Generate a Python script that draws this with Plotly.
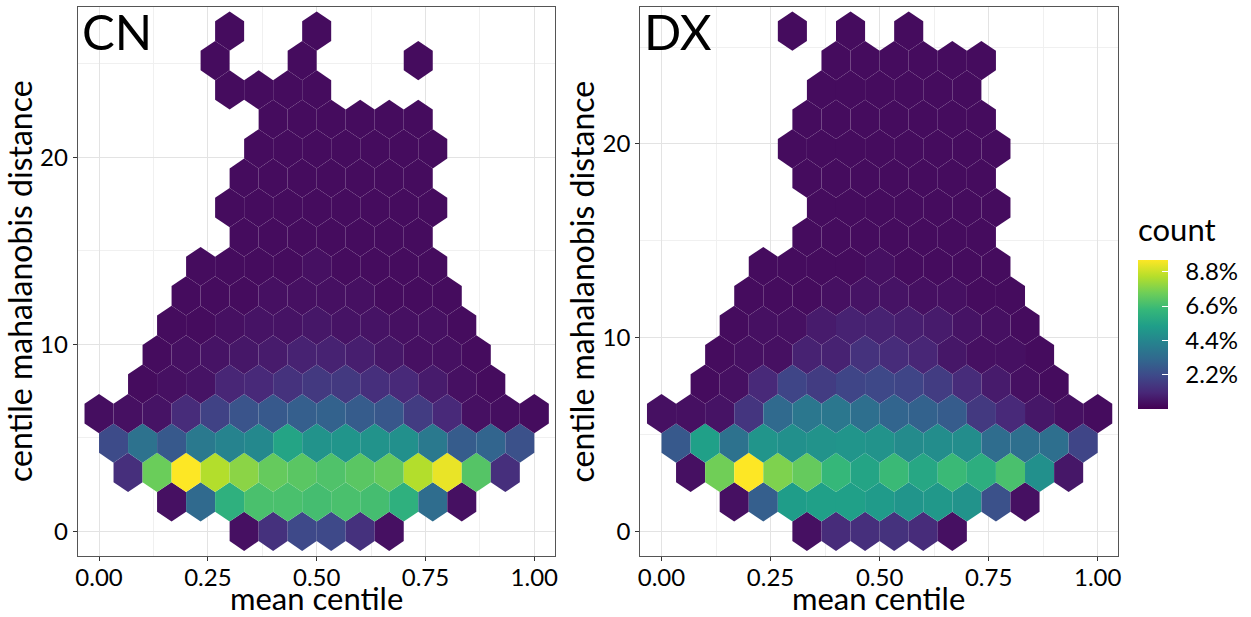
import plotly.graph_objects as go
from plotly.colors import sequential, hex_to_rgb

W, H = 1251, 617
FONT = "Lato"

# Hexagonal bins: 15 bins across mean centile, odd rows shifted by half a bin
BIN_W = 1 / 15
CN_BIN_H = 1.573
DX_BIN_H = 1.519
COUNT_MAX = 9.6  # top of the colour scale (%)

# Percentage per hex bin, one entry per row: (row, first column, values); None = empty bin
CN_ROWS = [
    (0, 5, [0.4, 1.35, 2.15, 2.15, 1.35, 0.4]),
    (1, 2, [0.4, 3.3, 6.1, 6.8, 6.8, 6.7, 6.8, 6.7, 6.1, 3.4, 0.4]),
    (2, 1, [1.3, 7.4, 9.6, 8.5, 7.9, 7.3, 7.1, 6.9, 7.1, 7.3, 8.5, 9.3, 7.0, 1.3]),
    (3, 0, [2.2, 3.6, 2.7, 3.9, 4.3, 4.5, 5.6, 4.9, 5.0, 4.9, 4.8, 3.9, 2.8, 3.1, 2.4]),
    (4, 0, [0.35, 0.4, 0.5, 1.2, 1.9, 2.5, 2.7, 2.9, 3.0, 2.8, 2.6, 1.7, 1.1, 0.4, 0.35, 0.3]),
    (5, 1, [0.3, 0.4, 0.5, 1.0, 1.1, 1.4, 1.6, 1.6, 1.3, 1.1, 0.7, 0.4, 0.3]),
    (6, 2, [0.3, 0.4, 0.5, 0.6, 0.7, 0.9, 0.9, 0.8, 0.6, 0.4, 0.4, 0.3]),
    (7, 2, [0.3, 0.3, 0.4, 0.5, 0.5, 0.6, 0.5, 0.5, 0.4, 0.4, 0.3]),
    (8, 3, [0.3, 0.3, 0.3, 0.4, 0.4, 0.4, 0.4, 0.3, 0.3, 0.3]),
    (9, 3, [0.3, 0.3, 0.3, 0.3, 0.4, 0.3, 0.3, 0.3, 0.3]),
    (10, 5, [0.3, 0.3, 0.3, 0.3, 0.3, 0.3, 0.3]),
    (11, 4, [0.3, 0.3, 0.3, 0.3, 0.3, 0.3, 0.3, 0.3]),
    (12, 5, [0.3, 0.3, 0.3, 0.3, 0.3, 0.3, 0.3]),
    (13, 5, [0.3, 0.3, 0.3, 0.3, 0.3, 0.3, 0.3]),
    (14, 6, [0.3, 0.3, 0.3, 0.3, 0.3, 0.3]),
    (15, 4, [0.3, 0.3, 0.3, 0.3]),
    (16, 4, [0.3, None, None, 0.3, None, None, None, 0.3]),
    (17, 4, [0.3, None, None, 0.3]),
]

DX_ROWS = [
    (0, 5, [0.4, 1.2, 1.3, 1.4, 1.2, 0.4]),
    (1, 2, [0.4, 2.9, 5.3, 5.4, 5.4, 5.2, 5.0, 5.1, 4.9, 2.4, 0.4]),
    (2, 1, [0.4, 7.5, 9.6, 7.7, 7.3, 6.4, 5.6, 6.5, 5.7, 6.5, 6.0, 6.8, 4.8, 0.6]),
    (3, 0, [2.7, 5.4, 3.6, 5.0, 4.8, 4.9, 5.0, 4.9, 4.6, 4.7, 4.7, 3.4, 3.5, 3.5, 2.0]),
    (4, 0, [0.4, 0.4, 0.5, 1.5, 3.3, 3.8, 3.8, 3.5, 3.1, 3.0, 2.8, 1.6, 1.1, 0.6, 0.4, 0.3]),
    (5, 1, [0.3, 0.4, 1.1, 2.0, 1.7, 2.0, 2.1, 2.0, 1.7, 1.2, 0.7, 0.4, 0.3]),
    (6, 2, [0.3, 0.4, 0.4, 0.9, 0.9, 1.4, 1.2, 1.0, 0.6, 0.4, 0.4, 0.3]),
    (7, 2, [0.3, 0.4, 0.4, 0.7, 0.9, 0.9, 0.8, 0.7, 0.5, 0.4, 0.3]),
    (8, 3, [0.3, 0.3, 0.3, 0.4, 0.5, 0.5, 0.4, 0.4, 0.3, 0.3]),
    (9, 3, [0.3, 0.3, 0.3, 0.3, 0.4, 0.3, 0.3, 0.3, 0.3]),
    (10, 5, [0.3, 0.3, 0.3, 0.3, 0.3, 0.3, 0.3]),
    (11, 5, [0.3, 0.3, 0.3, 0.3, 0.3, 0.3, 0.3]),
    (12, 5, [0.3, 0.3, 0.3, 0.3, 0.3, 0.3, 0.3]),
    (13, 4, [0.3, 0.3, 0.3, 0.3, 0.3, 0.3, 0.3, 0.3]),
    (14, 5, [0.3, 0.3, 0.3, 0.3, 0.3, 0.3, 0.3]),
    (15, 5, [0.3, 0.3, 0.3, 0.3, 0.3, 0.3]),
    (16, 6, [0.3, 0.3, 0.3, 0.3, 0.3, 0.3]),
    (17, 4, [0.3, None, 0.3, None, 0.3]),
]

PANEL_LABELS = ["CN", "DX"]
X_TICKS = [0.0, 0.25, 0.5, 0.75, 1.0]
Y_TICKS = [0, 10, 20]
CBAR_TICKS = [2.2, 4.4, 6.6, 8.8]

VIRIDIS = [hex_to_rgb(c) for c in sequential.Viridis]


def viridis(t):
    t = min(max(t, 0.0), 1.0)
    n = len(VIRIDIS) - 1
    i = min(int(t * n), n - 1)
    f = t * n - i
    a, b = VIRIDIS[i], VIRIDIS[i + 1]
    return "rgb(%d,%d,%d)" % tuple(round(a[k] + (b[k] - a[k]) * f) for k in range(3))


def expand(rows, bin_h):
    xs, ys, vs = [], [], []
    for r, c0, vals in rows:
        off = 0.5 if r % 2 else 0.0
        for i, v in enumerate(vals):
            if v is None:
                continue
            xs.append((c0 + i + off) * BIN_W)
            ys.append(r * bin_h)
            vs.append(v)
    return xs, ys, vs


def hex_path(cx, cy, w, h):
    pts = [(cx, cy + h / 2), (cx + w / 2, cy + h / 4), (cx + w / 2, cy - h / 4),
           (cx, cy - h / 2), (cx - w / 2, cy - h / 4), (cx - w / 2, cy + h / 4)]
    return "M" + "L".join("%.5f,%.5f" % p for p in pts) + "Z"


def px_x(p):
    return p / W


def px_y(p):
    return 1 - p / H


fig = go.Figure()
shapes = []
panels = [(CN_ROWS, CN_BIN_H, "x", "y", "coloraxis"), (DX_ROWS, DX_BIN_H, "x2", "y2", "coloraxis2")]
for rows, bin_h, xa, ya, cax in panels:
    xs, ys, vs = expand(rows, bin_h)
    hex_h = 4 * bin_h / 3
    for x, y, v in zip(xs, ys, vs):
        shapes.append(dict(type="path", path=hex_path(x, y, BIN_W, hex_h),
                           xref=xa, yref=ya, fillcolor=viridis(v / COUNT_MAX),
                           line=dict(width=0), layer="above"))
    fig.add_trace(go.Scatter(
        x=xs, y=ys, mode="markers", xaxis=xa, yaxis=ya, showlegend=False,
        marker=dict(color=vs, coloraxis=cax, size=20, opacity=0, symbol="hexagon"),
        hoverlabel=dict(bgcolor="white", font=dict(color="black")),
        hovertemplate="mean centile %{x:.3f}<br>distance %{y:.1f}<br>%{marker.color:.1f}%<extra></extra>",
    ))

x_dom = [[px_x(76), px_x(555)], [px_x(640.7), px_x(1120.7)]]
y_dom = [px_y(556), px_y(6.7)]
y_rng = [[-0.84 * CN_BIN_H, 17.83 * CN_BIN_H], [-0.84 * DX_BIN_H, 17.83 * DX_BIN_H]]

axis_style = dict(
    showgrid=True, gridcolor="#e3e3e3", gridwidth=1, zeroline=False,
    showline=True, mirror=True, linecolor="#555555", linewidth=1,
    ticks="outside", ticklen=4, tickcolor="#333333", tickwidth=1,
    tickfont=dict(family=FONT, size=24, color="black"),
)

# Two colour bars share one spot: a clear one carrying the labels,
# and the viridis bar on top of it carrying white inner ticks
cbar_pos = dict(x=px_x(1141), xanchor="left", xpad=0, y=px_y(334), yanchor="middle", ypad=0,
                len=149.4, lenmode="pixels", thickness=30, thicknessmode="pixels",
                outlinewidth=0, tickmode="array", tickvals=CBAR_TICKS)
clear = "rgba(255,255,255,0)"
layout = dict(
    width=W, height=H, margin=dict(l=0, r=0, t=0, b=0),
    paper_bgcolor="white", plot_bgcolor="white", shapes=shapes,
    font=dict(family=FONT, color="black"),
    coloraxis=dict(
        colorscale=[[0, clear], [1, clear]], cmin=0, cmax=COUNT_MAX,
        colorbar=dict(cbar_pos, ticktext=["%.1f%%" % t for t in CBAR_TICKS],
                      ticks="outside", ticklen=13, tickcolor=clear,
                      tickfont=dict(family=FONT, size=24, color="black")),
    ),
    coloraxis2=dict(
        colorscale="Viridis", cmin=0, cmax=COUNT_MAX,
        colorbar=dict(cbar_pos, ticks="inside", ticklen=6, tickcolor="white",
                      tickwidth=1, showticklabels=False),
    ),
)
for i in range(2):
    sx = "" if i == 0 else str(i + 1)
    layout["xaxis" + sx] = dict(
        axis_style, domain=x_dom[i], range=[-0.049, 1.047], anchor="y" + sx,
        tickmode="array", tickvals=X_TICKS, ticktext=["%.2f" % t for t in X_TICKS],
        ticklabelstandoff=-4,
        minor=dict(showgrid=True, gridcolor="#f0f0f0", gridwidth=0.6,
                   tickmode="array", tickvals=[0.125, 0.375, 0.625, 0.875]),
    )
    layout["yaxis" + sx] = dict(
        axis_style, domain=y_dom, range=y_rng[i], anchor="x" + sx,
        tickmode="array", tickvals=Y_TICKS, ticktext=[str(t) for t in Y_TICKS],
        minor=dict(showgrid=True, gridcolor="#f0f0f0", gridwidth=0.6,
                   tickmode="array", tickvals=[5, 15, 25]),
    )
fig.update_layout(**layout)

annotations = []
for i, lab in enumerate(PANEL_LABELS):
    left = [76, 640.7][i]
    annotations.append(dict(text=lab, x=px_x(left + 2), y=px_y(0), xref="paper", yref="paper",
                            xanchor="left", yanchor="top", showarrow=False,
                            font=dict(family=FONT, size=49, color="black")))
    annotations.append(dict(text="mean centile", x=px_x(left + 239.5), y=px_y(598),
                            xref="paper", yref="paper", xanchor="center", yanchor="middle",
                            showarrow=False, font=dict(family=FONT, size=31, color="black")))
    annotations.append(dict(text="centile mahalanobis distance", x=px_x(left - 59), y=px_y(281),
                            xref="paper", yref="paper", xanchor="center", yanchor="middle",
                            textangle=-90, showarrow=False,
                            font=dict(family=FONT, size=32, color="black")))
annotations.append(dict(text="count", x=px_x(1139), y=px_y(229), xref="paper", yref="paper",
                        xanchor="left", yanchor="middle", showarrow=False,
                        font=dict(family=FONT, size=31, color="black")))
fig.update_layout(annotations=annotations)

fig.write_html("out.html")
